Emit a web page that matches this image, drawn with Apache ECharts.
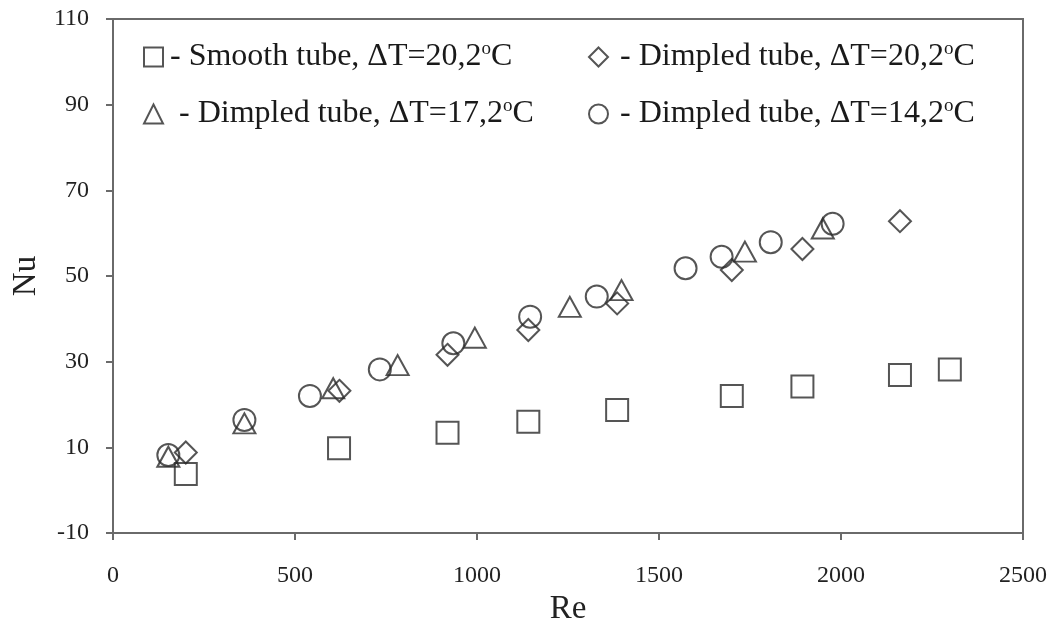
<!DOCTYPE html>
<html>
<head>
<meta charset="utf-8">
<script src="https://cdn.jsdelivr.net/npm/echarts@6/dist/echarts.min.js"></script>
<style>
html,body{margin:0;padding:0;background:#fff;}
#chart{width:1059px;height:626px;}
</style>
</head>
<body>
<div id="chart"></div>
<script>
// ---- data ----
const smoothRe = [200, 621, 919, 1141, 1385, 1700, 1894, 2162, 2299];
const smoothNu = [3.8, 9.8, 13.4, 16.0, 18.7, 22.0, 24.2, 26.9, 28.2];
const dimp20Re = [200, 622, 919, 1141, 1385, 1700, 1894, 2162];
const dimp20Nu = [8.8, 23.2, 31.6, 37.4, 43.6, 51.4, 56.3, 62.8];
const dimp17Re = [152, 361, 605, 782, 994, 1255, 1397, 1736, 1950];
const dimp17Nu = [7.8, 15.6, 23.8, 29.2, 35.6, 42.8, 46.7, 55.7, 61.1];
const dimp14Re = [152, 361, 541, 733, 935, 1146, 1329, 1573, 1672, 1807, 1977];
const dimp14Nu = [8.2, 16.4, 22.0, 28.2, 34.3, 40.5, 45.2, 51.8, 54.5, 57.9, 62.2];
const seriesNames = ['Smooth tube, ΔT=20,2ºC', 'Dimpled tube, ΔT=20,2ºC', 'Dimpled tube, ΔT=17,2ºC', 'Dimpled tube, ΔT=14,2ºC'];
const legendPrefix = ['- Smooth tube, ΔT=20,2', '- Dimpled tube, ΔT=20,2', '- Dimpled tube, ΔT=17,2', '- Dimpled tube, ΔT=14,2'];
const xTitle = 'Re';
const yTitle = 'Nu';

const FONT = '"Liberation Serif", "Times New Roman", serif';
const INK = '#2b2b2b';
const AXIS = '#6a6a6a';

function pts(xs, ys) { return xs.map((x, i) => [x, ys[i]]); }

const mk = (name, data, symbol, size) => ({
  name: name, type: 'scatter', data: data, symbol: symbol, symbolSize: size,
  itemStyle: { color: 'rgba(0,0,0,0)', borderColor: INK, borderWidth: 2 },
  emphasis: { disabled: true }
});

const txt = (pad) => ({ fontFamily: FONT, fontSize: 32, color: '#1a1a1a', lineHeight: 34, padding: [0, 0, 0, pad] });
const rich = {
  a: txt(2),
  b: txt(11),
  c: txt(7),
  a0: { fontFamily: FONT, fontSize: 32, color: '#1a1a1a', lineHeight: 34 },
  s: { fontFamily: FONT, fontSize: 19, color: '#1a1a1a', lineHeight: 19, verticalAlign: 'top' }
};
function legendAt(idx, left, top, style) {
  return {
    data: [seriesNames[idx]], left: left, top: top, padding: 0, orient: 'vertical',
    itemWidth: 19, itemHeight: 19, selectedMode: false,
    itemStyle: { borderWidth: 2, borderColor: INK, color: 'rgba(0,0,0,0)' },
    formatter: () => '{' + style + '|' + legendPrefix[idx] + '}{s|o}{a0|C}',
    textStyle: { rich: rich }
  };
}

const chart = echarts.init(document.getElementById('chart'), null, { renderer: 'canvas' });
chart.setOption({
  animation: false,
  backgroundColor: '#fff',
  grid: { left: 113, right: 36, top: 19, bottom: 93, show: true, borderColor: AXIS, borderWidth: 2, backgroundColor: 'transparent', containLabel: false, outerBoundsMode: 'none' },
  legend: [
    legendAt(0, 143, 40, 'a'),
    legendAt(1, 588, 40, 'c'),
    legendAt(2, 143, 97, 'b'),
    legendAt(3, 588, 97, 'c')
  ],
  xAxis: {
    type: 'value', min: 0, max: 2500, interval: 500,
    name: xTitle, nameLocation: 'middle', nameGap: 55,
    nameTextStyle: { fontFamily: FONT, fontSize: 33, color: '#222' },
    axisLine: { show: true, onZero: false, lineStyle: { color: AXIS, width: 2 } },
    axisTick: { show: true, inside: false, length: 7, lineStyle: { color: AXIS, width: 2 } },
    axisLabel: { fontFamily: FONT, fontSize: 24, color: '#222', margin: 31, formatter: v => String(v) },
    splitLine: { show: false }
  },
  yAxis: {
    type: 'value', min: -10, max: 110, interval: 20,
    name: yTitle, nameLocation: 'middle', nameGap: 66,
    nameTextStyle: { fontFamily: FONT, fontSize: 33, color: '#222' },
    axisLine: { show: true, onZero: false, lineStyle: { color: AXIS, width: 2 } },
    axisTick: { show: true, inside: false, length: 7, lineStyle: { color: AXIS, width: 2 } },
    axisLabel: { fontFamily: FONT, fontSize: 24, color: '#222', margin: 24, formatter: v => String(v) },
    splitLine: { show: false }
  },
  series: [
    mk(seriesNames[0], pts(smoothRe, smoothNu), 'rect', 22),
    mk(seriesNames[1], pts(dimp20Re, dimp20Nu), 'diamond', 22),
    mk(seriesNames[2], pts(dimp17Re, dimp17Nu), 'triangle', [22, 20]),
    mk(seriesNames[3], pts(dimp14Re, dimp14Nu), 'circle', 22)
  ]
});
</script>
</body>
</html>
